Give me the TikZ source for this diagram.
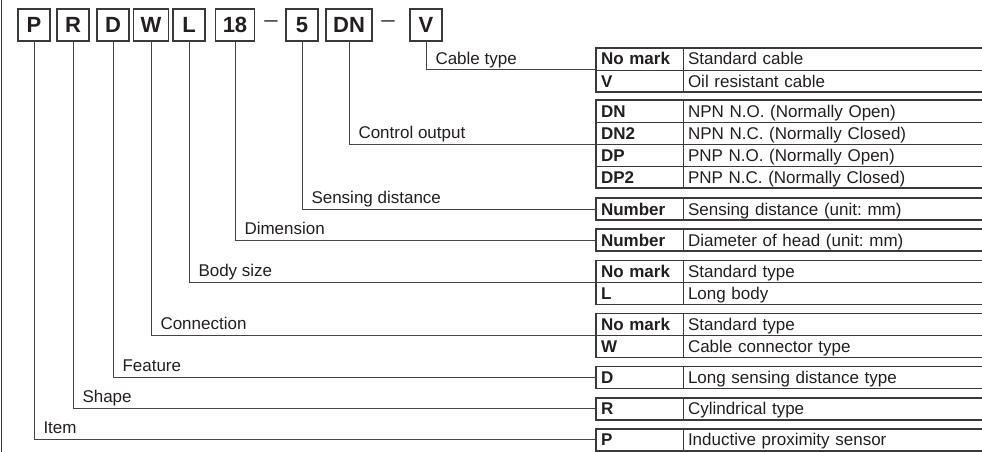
\documentclass[tikz,border=0pt]{standalone}
\usepackage{fontspec}
\setmainfont{Liberation Sans}
\usepackage{xcolor}
\usepackage{tikz}
\usetikzlibrary{positioning}
\definecolor{rim}{RGB}{58,58,58}
\definecolor{ink}{RGB}{35,31,32}
\definecolor{wire}{RGB}{68,68,68}

\tikzset{
  letterbox/.style={draw=rim, line width=1.3pt, minimum width=32pt, minimum height=32pt,
    inner xsep=7pt, outer sep=0pt, text=ink, font=\fontsize{22}{22}\selectfont\bfseries},
  codecell/.style={draw=rim, line width=0.9pt, anchor=north west, outer sep=0pt,
    minimum height=22pt, text width=77pt, inner xsep=5pt, inner ysep=0pt,
    text height=13pt, text depth=1pt, align=left, text=ink,
    font=\fontsize{17}{17}\selectfont\bfseries},
  desccell/.style={codecell, text width=320pt, font=\fontsize{17}{17}\selectfont},
  tablerim/.style={draw=rim, line width=1.7pt},
  wire/.style={draw=wire, line width=1pt},
  tag/.style={pos=0.5, anchor=base west, xshift=9pt, yshift=6pt, inner sep=0pt,
    text=ink, font=\fontsize{17}{17}\selectfont},
  dashmark/.style={text=wire, inner sep=0pt, font=\fontsize{24}{24}\selectfont}
}

\begin{document}
\frenchspacing
\begin{tikzpicture}[x=1pt, y=-1pt]
    \useasboundingbox (0,0) rectangle (982,452);
    \draw[rim, line width=1.6pt] (1.5,0) -- (1.5,452);

    % model code
    \node[letterbox] (P) at (34,25) {P};
    \node[letterbox] (R) at (73,25) {R};
    \node[letterbox] (D) at (113,25) {D};
    \node[letterbox] (W) at (151,25) {W};
    \node[letterbox] (L) at (189,25) {L};
    \node[letterbox] (dia) at (235,25) {18};
    \node[dashmark] (dash1) at (271,24) {–};
    \node[letterbox] (dist) at (302,25) {5};
    \node[letterbox] (out) at (349,25) {DN};
    \node[dashmark] (dash2) at (388,24) {–};
    \node[letterbox] (cab) at (426,25) {V};

    % tables
    \node[codecell] (cab1c) at (596,48) {No mark};
    \node[desccell, right=0pt of cab1c] (cab1d) {Standard cable};
    \node[codecell] (cab2c) at (596,70) {V};
    \node[desccell, right=0pt of cab2c] (cab2d) {Oil resistant cable};

    \node[codecell] (ctl1c) at (596,100.1) {DN};
    \node[desccell, right=0pt of ctl1c] (ctl1d) {NPN N.O. (Normally Open)};
    \node[codecell] (ctl2c) at (596,122.1) {DN2};
    \node[desccell, right=0pt of ctl2c] (ctl2d) {NPN N.C. (Normally Closed)};
    \node[codecell] (ctl3c) at (596,144.1) {DP};
    \node[desccell, right=0pt of ctl3c] (ctl3d) {PNP N.O. (Normally Open)};
    \node[codecell] (ctl4c) at (596,166.1) {DP2};
    \node[desccell, right=0pt of ctl4c] (ctl4d) {PNP N.C. (Normally Closed)};

    \node[codecell] (sen1c) at (596,198.2) {Number};
    \node[desccell, right=0pt of sen1c] (sen1d) {Sensing distance (unit: mm)};

    \node[codecell] (dim1c) at (596,229.3) {Number};
    \node[desccell, right=0pt of dim1c] (dim1d) {Diameter of head (unit: mm)};

    \node[codecell] (bod1c) at (596,260.4) {No mark};
    \node[desccell, right=0pt of bod1c] (bod1d) {Standard type};
    \node[codecell] (bod2c) at (596,282.4) {L};
    \node[desccell, right=0pt of bod2c] (bod2d) {Long body};

    \node[codecell] (con1c) at (596,313.5) {No mark};
    \node[desccell, right=0pt of con1c] (con1d) {Standard type};
    \node[codecell] (con2c) at (596,335.5) {W};
    \node[desccell, right=0pt of con2c] (con2d) {Cable connector type};

    \node[codecell] (fea1c) at (596,366.6) {D};
    \node[desccell, right=0pt of fea1c] (fea1d) {Long sensing distance type};

    \node[codecell] (shp1c) at (596,397.7) {R};
    \node[desccell, right=0pt of shp1c] (shp1d) {Cylindrical type};

    \node[codecell] (itm1c) at (596,428.8) {P};
    \node[desccell, right=0pt of itm1c] (itm1d) {Inductive proximity sensor};

    \draw[tablerim] (cab1c.north west) rectangle (cab2d.south east);
    \draw[tablerim] (ctl1c.north west) rectangle (ctl4d.south east);
    \draw[tablerim] (sen1c.north west) rectangle (sen1d.south east);
    \draw[tablerim] (dim1c.north west) rectangle (dim1d.south east);
    \draw[tablerim] (bod1c.north west) rectangle (bod2d.south east);
    \draw[tablerim] (con1c.north west) rectangle (con2d.south east);
    \draw[tablerim] (fea1c.north west) rectangle (fea1d.south east);
    \draw[tablerim] (shp1c.north west) rectangle (shp1d.south east);
    \draw[tablerim] (itm1c.north west) rectangle (itm1d.south east);

    % leaders
    \draw[wire] (cab.south) |- node[tag] {Cable type} (cab1c.south west);
    \draw[wire] (out.south) |- node[tag] {Control output} (ctl2c.south west);
    \draw[wire] (dist.south) |- node[tag] {Sensing distance} (sen1c.west);
    \draw[wire] (dia.south) |- node[tag] {Dimension} (dim1c.west);
    \draw[wire] (L.south) |- node[tag] {Body size} (bod1c.south west);
    \draw[wire] (W.south) |- node[tag] {Connection} (con1c.south west);
    \draw[wire] (D.south) |- node[tag] {Feature} (fea1c.west);
    \draw[wire] (R.south) |- node[tag] {Shape} (shp1c.west);
    \draw[wire] (P.south) |- node[tag] {Item} (itm1c.west);
\end{tikzpicture}
\end{document}
